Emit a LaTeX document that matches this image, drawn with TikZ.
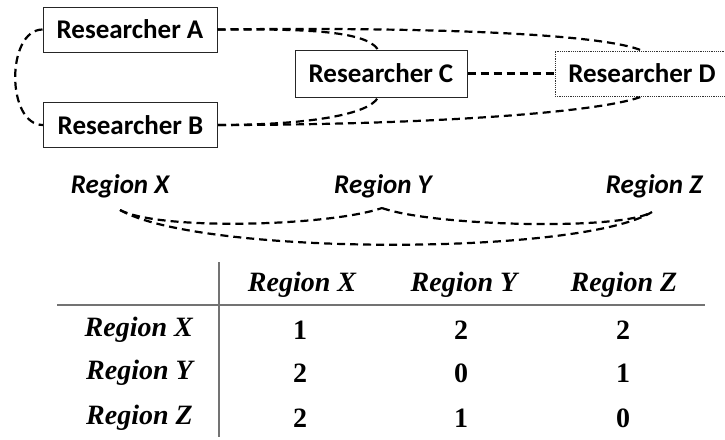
\documentclass[tikz,border=0pt]{standalone}
\usepackage{fontspec}
\setmainfont{Liberation Serif}
\newfontfamily\calfont{Carlito}
\begin{document}
\begin{tikzpicture}[x=1pt,y=-1pt,
  rbox/.style={draw=black!85,line width=1pt,inner sep=0pt,minimum width=174pt,minimum height=45pt,
    font=\calfont\bfseries\fontsize{27}{30}\selectfont},
  dbox/.style={rbox,draw=black!80,line width=0.8pt,dash pattern=on 1.2pt off 1pt},
  link/.style={line width=2.2pt,dash pattern=on 8pt off 5pt},
  rlab/.style={font=\calfont\bfseries\itshape\fontsize{27}{30}\selectfont,inner sep=0pt},
  thead/.style={font=\bfseries\itshape\fontsize{28}{30}\selectfont,inner sep=0pt},
  tval/.style={font=\bfseries\fontsize{28}{30}\selectfont,inner sep=0pt},
  rule/.style={draw=black!55,line width=1.6pt}]
\useasboundingbox (0,0) rectangle (725,439);
% researcher boxes
\node[rbox] (A) at (130,29.5) {Researcher A};
\node[rbox] (B) at (130.5,125) {Researcher B};
\node[rbox,minimum width=172pt,minimum height=47pt] (C) at (381,73.5) {Researcher C};
\node[dbox,minimum width=174pt] (D) at (642,73.5) {Researcher D};
% connectors
\draw[link] (A.west) .. controls (6,30) and (6,125) .. (B.west);
\draw[link] (A.east) .. controls (300,29) and (365,30) .. ([xshift=-3pt]C.north);
\draw[link] (A.east) .. controls (420,27) and (600,33) .. (D.north);
\draw[link] (B.east) .. controls (300,125) and (368,116) .. ([xshift=-3pt]C.south);
\draw[link] (B.east) .. controls (420,125) and (600,113) .. (D.north |- D.south);
\draw[link] (C.east) -- (D.west);
% regions
\node[rlab] (rx) at (120,186) {Region X};
\node[rlab] (ry) at (383,186) {Region Y};
\node[rlab] (rz) at (654,186) {Region Z};
\coordinate (px) at (120,210);
\coordinate (py) at (382,208);
\coordinate (pz) at (652,212);
\draw[link] (px) .. controls (160,231) and (330,226) .. (py);
\draw[link] (py) .. controls (432,226) and (620,231) .. (pz);
\draw[link] (px) .. controls (200,256) and (580,256) .. (pz);
% table
\coordinate (vt) at (219,262);
\coordinate (vb) at (219,437);
\coordinate (hl) at (57,305);
\coordinate (hr) at (705,305);
\draw[rule] (vt) -- (vb);
\draw[rule] (hl) -- (hr);
\node[thead] (hx) at (302,285) {Region X};
\node[thead] (hy) at (464,285) {Region Y};
\node[thead] (hz) at (624,285) {Region Z};
\node[thead,anchor=east] (lx) at (193,330) {Region X};
\node[thead,anchor=east] (ly) at (193,373) {Region Y};
\node[thead,anchor=east] (lz) at (193,418) {Region Z};
\node[tval] (v11) at (300,330) {1};
\node[tval] (v12) at (461,330) {2};
\node[tval] (v13) at (623,330) {2};
\node[tval] (v21) at (300,373) {2};
\node[tval] (v22) at (461,373) {0};
\node[tval] (v23) at (623,373) {1};
\node[tval] (v31) at (300,418) {2};
\node[tval] (v32) at (461,418) {1};
\node[tval] (v33) at (623,418) {0};
\end{tikzpicture}
\end{document}
